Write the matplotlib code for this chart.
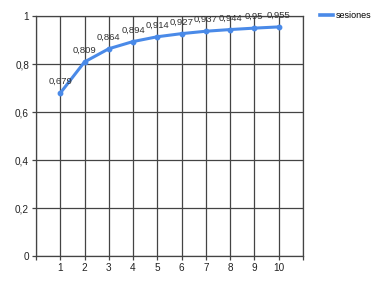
import matplotlib.pyplot as plt

# datos de la serie
sesiones = [1, 2, 3, 4, 5, 6, 7, 8, 9, 10]
valores = [0.679, 0.809, 0.864, 0.894, 0.914, 0.927, 0.937, 0.944, 0.95, 0.955]
etiquetas = ["0,679", "0,809", "0,864", "0,894", "0,914", "0,927", "0,937", "0,944", "0,95", "0,955"]
y_ticks = [0, 0.2, 0.4, 0.6, 0.8, 1]
y_labels = ["0", "0,2", "0,4", "0,6", "0,8", "1"]

plt.rcParams['font.family'] = ['Liberation Sans Narrow', 'Liberation Sans', 'DejaVu Sans']

fig = plt.figure(figsize=(3.85, 2.88), dpi=100)
ax = fig.add_axes([0.0935, 0.111, 0.693, 0.833])

azul = '#4a8ae8'
ax.plot(sesiones, valores, color=azul, linewidth=2.2, marker='o', markersize=3.2, label='sesiones', zorder=3)

for x, y, t in zip(sesiones, valores, etiquetas):
    ax.annotate(t, (x, y), xytext=(0, 5), textcoords='offset points', ha='center', va='bottom',
                fontsize=6.8, color='#333333')

ax.set_xlim(0, 11)
ax.set_ylim(0, 1)
ax.set_xticks(range(0, 12))
ax.set_xticklabels([''] + [str(s) for s in sesiones] + [''])
ax.set_yticks(y_ticks)
ax.set_yticklabels(y_labels)
ax.grid(True, color='#444444', linewidth=0.9)
ax.set_axisbelow(True)
for s in ax.spines.values():
    s.set_color('#444444')
    s.set_linewidth(0.9)
ax.tick_params(length=3, width=0.9, color='#444444', labelsize=7.2, labelcolor='#222222', pad=2)

ley = ax.legend(loc='upper left', bbox_to_anchor=(1.065, 1.02), frameon=False, fontsize=6.5,
                handlelength=1.4, handletextpad=0.3, borderaxespad=0, borderpad=0)
for h in ley.get_lines():
    h.set_marker('')
    h.set_linewidth(2.6)

fig.savefig('out.png', dpi=100)
